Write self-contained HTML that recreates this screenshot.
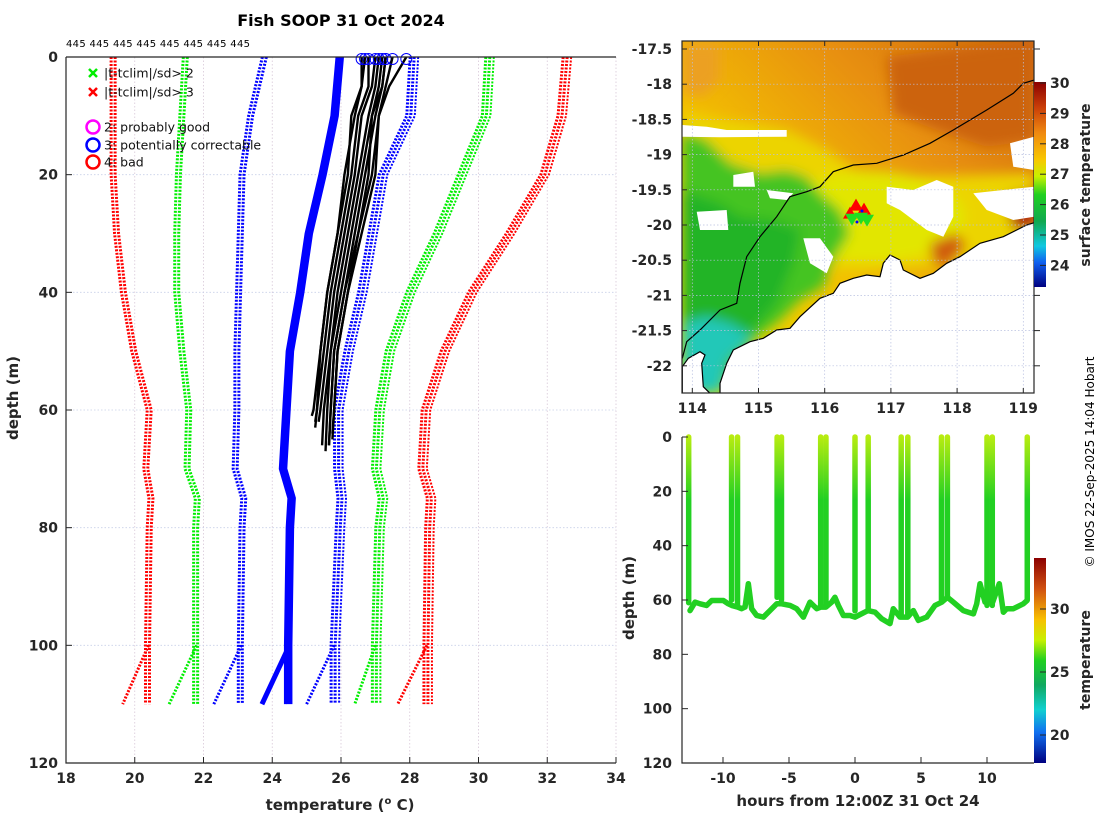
<!DOCTYPE html>
<html><head><meta charset="utf-8">
<style>
html,body{margin:0;padding:0;background:#fff;}
svg{display:block;font-family:"DejaVu Sans","Liberation Sans",sans-serif;}
.tk{font-size:14px;font-weight:bold;fill:#262626;}
</style></head>
<body>
<svg id="root" width="1100" height="820" viewBox="0 0 1100 820" xmlns="http://www.w3.org/2000/svg">
<defs>
<linearGradient id="sstcb" x1="0" y1="0" x2="0" y2="1">
<stop offset="0" stop-color="#8b0000"/><stop offset="0.12" stop-color="#c83c08"/><stop offset="0.25" stop-color="#f08a10"/><stop offset="0.38" stop-color="#f8c800"/><stop offset="0.46" stop-color="#c8f000"/><stop offset="0.55" stop-color="#20d020"/><stop offset="0.68" stop-color="#10a850"/><stop offset="0.8" stop-color="#10c8e0"/><stop offset="0.88" stop-color="#1060f0"/><stop offset="1" stop-color="#000080"/>
</linearGradient>
<linearGradient id="tcb" x1="0" y1="0" x2="0" y2="1">
<stop offset="0" stop-color="#8b0000"/><stop offset="0.15" stop-color="#d05010"/><stop offset="0.3" stop-color="#f8c000"/><stop offset="0.4" stop-color="#c8f000"/><stop offset="0.5" stop-color="#20d020"/><stop offset="0.62" stop-color="#10a860"/><stop offset="0.74" stop-color="#10d0d0"/><stop offset="0.85" stop-color="#1070f0"/><stop offset="1" stop-color="#000080"/>
</linearGradient>
<linearGradient id="mapbg" x1="1" y1="0" x2="0" y2="1">
<stop offset="0" stop-color="#d06a0c"/><stop offset="0.3" stop-color="#e89010"/><stop offset="0.6" stop-color="#f2c000"/><stop offset="1" stop-color="#ecdc00"/>
</linearGradient>
<linearGradient id="castg" gradientUnits="userSpaceOnUse" x1="0" y1="436" x2="0" y2="500">
<stop offset="0" stop-color="#b8ec10"/><stop offset="1" stop-color="#22d022"/>
</linearGradient>
<filter id="blur" x="-10%" y="-10%" width="120%" height="120%"><feGaussianBlur stdDeviation="6"/></filter>
<clipPath id="mapclip"><rect x="682" y="41" width="352" height="352"/></clipPath>
</defs>

<text x="341" y="26" text-anchor="middle" font-size="16" font-weight="bold" fill="#000">Fish SOOP 31 Oct 2024</text>
<text x="66" y="47" font-size="10" fill="#000" textLength="184">445 445 445 445 445 445 445 445</text>

<g id="left"></g>
<g id="map"></g>
<g id="ts"></g>

<text transform="translate(1094,462) rotate(-90)" text-anchor="middle" font-size="12" fill="#000">© IMOS 22-Sep-2025 14:04 Hobart</text>
</svg>
<script>
const NS="http://www.w3.org/2000/svg";
function mk(tag,attrs,parent){const e=document.createElementNS(NS,tag);for(const k in attrs)e.setAttribute(k,attrs[k]);parent.appendChild(e);return e;}

/* ---------- LEFT PROFILE CHART DATA ---------- */
const climDepths=[0,10,20,30,40,50,60,70,75,80,100,110];
const redLow =[19.4,19.4,19.4,19.5,19.7,20.0,20.45,20.35,20.5,20.45,20.4,20.4];
const greenLow=[21.5,21.4,21.3,21.25,21.25,21.4,21.6,21.55,21.85,21.8,21.8,21.8];
const blueLow=[23.8,23.4,23.15,23.1,23.05,23.0,23.0,22.95,23.2,23.15,23.1,23.1];
const meanT =[26.0,25.85,25.5,25.1,24.85,24.55,24.45,24.35,24.6,24.55,24.5,24.5];
const blueHigh=[28.1,28.0,27.2,26.9,26.6,26.2,25.9,25.9,26.0,25.95,25.8,25.8];
const greenHigh=[30.3,30.2,29.5,28.8,28.0,27.4,27.1,27.0,27.2,27.1,27.0,27.0];
const redHigh=[32.55,32.4,31.9,30.9,29.8,29.0,28.45,28.35,28.6,28.55,28.5,28.5];
const branch110=[19.65,21.0,22.3,23.7,25.0,26.4,27.65];
const castDepths=[0,5,10,20,30,40,50,60];
const castEnds=[61,63,62,66,67,66,64,65,66,62];
const casts=[
[26.6,26.6,26.4,26.1,25.9,25.6,25.4,25.2],
[26.8,26.8,26.5,26.3,26.0,25.7,25.5,25.3],
[27.0,26.9,26.6,26.4,26.1,25.8,25.6,25.4],
[27.1,27.0,26.8,26.5,26.2,25.9,25.7,25.5],
[27.2,27.1,26.9,26.6,26.3,26.0,25.7,25.6],
[27.3,27.2,27.0,26.7,26.4,26.1,25.8,25.7],
[27.3,27.2,26.9,26.8,26.5,26.2,25.9,25.8],
[27.5,27.3,27.1,27.0,26.6,26.2,25.9,25.8],
[27.9,27.4,27.1,26.9,26.5,26.1,25.8,25.7],
[26.7,26.6,26.3,26.2,25.9,25.6,25.4,25.3]];
const xTicksL=[18,20,22,24,26,28,30,32,34];
const yTicksL=[0,20,40,60,80,100,120];

const L={x0:66,x1:616,y0:57,y1:763,tmin:18,tmax:34,dmax:120};
const xL=t=>L.x0+(t-L.tmin)/(L.tmax-L.tmin)*(L.x1-L.x0);
const yL=d=>L.y0+d/L.dmax*(L.y1-L.y0);
const left=document.getElementById('left');

xTicksL.forEach(t=>{const g=mk('line',{x1:xL(t),x2:xL(t),y1:L.y0,y2:L.y1,stroke:'#d8c8d8','stroke-width':0.8,'stroke-dasharray':'1.5 2'},left);

});
yTicksL.forEach(d=>{const g=mk('line',{x1:L.x0,x2:L.x1,y1:yL(d),y2:yL(d),stroke:'#c8d0e8','stroke-width':0.8,'stroke-dasharray':'1.5 2'},left);

});

const climSeries=[[redLow,'#ff0000'],[greenLow,'#00ee00'],[blueLow,'#0000ff'],[meanT,'#0000ff'],[blueHigh,'#0000ff'],[greenHigh,'#00ee00'],[redHigh,'#ff0000']];
const climNames=['clim-minus-3sd','clim-minus-2sd','clim-minus-1sd','clim-mean','clim-plus-1sd','clim-plus-2sd','clim-plus-3sd'];
climSeries.forEach((s,i)=>{
  const vals=s[0],col=s[1];
  const pts=vals.map((v,j)=>xL(v)+','+yL(climDepths[j])).join(' ');
  const bpts=xL(vals[10])+','+yL(100)+' '+xL(branch110[i])+','+yL(110);
  const g=mk('g',{},left);
  
  
  if(i===3){
    mk('polyline',{points:pts,fill:'none',stroke:col,'stroke-width':6},g);
    mk('polyline',{points:pts,fill:'none',stroke:col,'stroke-width':3,transform:'translate(-4,0)'},g);
    mk('polyline',{points:bpts,fill:'none',stroke:col,'stroke-width':5},g);
  } else {
    [-3,1].forEach(o=>mk('polyline',{points:pts,fill:'none',stroke:col,'stroke-width':3,'stroke-dasharray':'2 1.5',transform:'translate('+o+',0)'},g));
    mk('polyline',{points:bpts,fill:'none',stroke:col,'stroke-width':3,'stroke-dasharray':'2 1.5'},g);
    if(i>3) mk('polyline',{points:pts,fill:'none',stroke:col,'stroke-width':2,'stroke-dasharray':'2 1.5',transform:'translate(5,0)'},g);
  }
});

casts.forEach((c,i)=>{
  const dd=castDepths.concat([castEnds[i]]);
  const vv=c.concat([c[c.length-1]-0.05]);
  const pts=vv.map((v,j)=>xL(v)+','+yL(dd[j])).join(' ');
  const p=mk('polyline',{points:pts,fill:'none',stroke:'#000','stroke-width':2.4,'stroke-linejoin':'round'},left);
  
  
  const ci=mk('circle',{cx:xL(c[0]),cy:yL(0)+2,r:5.5,fill:'none',stroke:'#0000ff','stroke-width':1},left);
  
  
});

mk('path',{d:`M${L.x0},${L.y0}H${L.x1}M${L.x0},${L.y0}V${L.y1}H${L.x1}`,stroke:'#262626','stroke-width':1.2,fill:'none'},left);
xTicksL.forEach(t=>{mk('line',{x1:xL(t),x2:xL(t),y1:L.y1,y2:L.y1-6,stroke:'#262626'},left);
const tx=mk('text',{x:xL(t),y:L.y1+20,'text-anchor':'middle',class:'tk'},left);tx.textContent=t;

});
yTicksL.forEach(d=>{mk('line',{x1:L.x0,x2:L.x0+6,y1:yL(d),y2:yL(d),stroke:'#262626'},left);
const tx=mk('text',{x:L.x0-8,y:yL(d)+5,'text-anchor':'end',class:'tk'},left);tx.textContent=d;

});
{const t=mk('text',{x:340,y:810,'text-anchor':'middle','font-size':15,'font-weight':'bold',fill:'#262626'},left);
t.innerHTML='temperature (<tspan dy="-6" font-size="10">o</tspan><tspan dy="6"> C)</tspan>';


const y=mk('text',{transform:'translate(18,398) rotate(-90)','text-anchor':'middle','font-size':15,'font-weight':'bold',fill:'#262626'},left);y.textContent='depth (m)';

}

{const lg=mk('g',{},left);


const items=[['x','#00ee00','|t-tclim|/sd> 2',73],['x','#ff0000','|t-tclim|/sd> 3',92],['o','#ff00ff','2: probably good',127],['o','#0000ff','3: potentially correctable',145],['o','#ff0000','4: bad',162]];
items.forEach(it=>{
  const e=mk('g',{},lg);
  
  
  if(it[0]==='x'){mk('path',{d:`M89,${it[3]-4}l8,8M97,${it[3]-4}l-8,8`,stroke:it[1],'stroke-width':2.5},e);}
  else mk('circle',{cx:93,cy:it[3],r:6.5,fill:'none',stroke:it[1],'stroke-width':2.5},e);
  const t=mk('text',{x:104,y:it[3]+4.5,'font-size':12.5,fill:'#111'},e);t.textContent=it[2];
});}

/* ---------- MAP ---------- */
const map=document.getElementById('map');
const lonTicks=[114,115,116,117,118,119];
const latTicks=[-17.5,-18,-18.5,-19,-19.5,-20,-20.5,-21,-21.5,-22];
const sstTicks=[24,25,26,27,28,29,30];
const M={x0:682,x1:1034,y0:41,y1:393};
const lonX=l=>692.3+(l-114)*66.2;
const latY=a=>49+(-17.5-a)*70.4;
const Z=s=>s.map(p=>(620+p[0]/3).toFixed(1)+','+(30+p[1]/3).toFixed(1)).join(' ');
const mg=mk('g',{'clip-path':'url(#mapclip)'},map);
mk('rect',{x:M.x0,y:M.y0,width:352,height:352,fill:'url(#mapbg)'},mg);
const soft=mk('g',{filter:'url(#blur)'},mg);
mk('polygon',{points:Z([[187,250],[500,300],[620,360],[700,420],[900,440],[1243,430],[1243,700],[700,720],[187,700]]),fill:'#ecd400'},soft);
mk('ellipse',{cx:620+750/3,cy:30+560/3,rx:95,ry:45,fill:'#e2e600'},soft);
mk('polygon',{points:Z([[187,300],[260,330],[330,400],[420,430],[500,420],[560,440],[600,490],[660,540],[690,610],[640,690],[610,770],[540,810],[480,870],[400,930],[300,1090],[187,1090]]),fill:'#44c420'},soft);
mk('polygon',{points:Z([[187,480],[300,520],[360,560],[460,570],[540,600],[520,700],[470,820],[400,900],[300,960],[187,980]]),fill:'#22b428'},soft);
mk('polygon',{points:Z([[187,880],[260,860],[330,880],[400,920],[320,990],[300,1090],[187,1090]]),fill:'#20c8b8'},soft);
mk('polygon',{points:Z([[187,40],[300,40],[300,150],[250,200],[187,190]]),fill:'#eca020'},soft);
mk('polygon',{points:Z([[800,80],[1243,30],[1243,330],[1100,350],[950,300],[820,250]]),fill:'#cc6410'},soft);
mk('polygon',{points:Z([[1160,500],[1243,480],[1243,600],[1180,600]]),fill:'#b02010'},soft);
mk('polygon',{points:Z([[930,640],[1010,610],[1040,650],[980,710],[940,700]]),fill:'#d05a10'},soft);
[[[187,285],[260,290],[320,300],[500,300],[500,320],[300,322],[187,320]],
 [[340,435],[400,425],[405,470],[340,470]],
 [[230,545],[320,540],[325,600],[240,600]],
 [[800,470],[880,480],[950,450],[1000,470],[1000,560],[970,620],[920,600],[840,540],[800,520]],
 [[1060,490],[1150,480],[1243,470],[1243,560],[1180,570],[1100,540]],
 [[1170,340],[1243,320],[1243,420],[1180,410]],
 [[550,625],[600,625],[640,680],[620,730],[570,700]],
 [[440,480],[520,490],[500,510],[450,505]]].forEach(c=>{const p=mk('polygon',{points:Z(c),fill:'#fff'},mg);
 
 });
{const land=mk('polygon',{points:Z([[300,1090],[300,1060],[320,1000],[340,960],[390,935],[430,925],[470,900],[510,895],[540,860],[600,805],[640,790],[660,760],[700,745],[740,735],[780,740],[790,700],[810,675],[840,690],[850,720],[900,745],[940,730],[980,700],[1020,680],[1080,640],[1150,620],[1190,600],[1220,585],[1243,578],[1243,1090]]),fill:'#fff',stroke:'#000','stroke-width':1.2},mg);


const land2=mk('polygon',{points:Z([[187,1090],[187,1010],[205,985],[240,965],[255,975],[245,1000],[250,1070],[270,1090]]),fill:'#fff',stroke:'#000','stroke-width':1.2},mg);


const iso=mk('polyline',{points:Z([[187,985],[200,935],[240,900],[300,840],[350,820],[360,760],[380,680],[420,620],[470,560],[510,500],[560,485],[600,470],[640,425],[700,405],[770,400],[850,375],[930,340],[1000,300],[1100,240],[1180,190],[1210,160],[1243,150]]),fill:'none',stroke:'#000','stroke-width':1.2},mg);

}
lonTicks.forEach(l=>mk('line',{x1:lonX(l),x2:lonX(l),y1:M.y0,y2:M.y1,stroke:'#b8c0e0','stroke-width':0.7,'stroke-dasharray':'1.5 2'},mg));
latTicks.forEach(a=>mk('line',{x1:M.x0,x2:M.x1,y1:latY(a),y2:latY(a),stroke:'#b8c0e0','stroke-width':0.7,'stroke-dasharray':'1.5 2'},mg));
{const mkg=mk('g',{},mg);


[[0,0,'#ff0000',1],[8,4,'#ff0000',1],[-6,8,'#ff0000',1],[5,12,'#22dd22',-1],[-4,13,'#22dd22',-1],[11,14,'#22dd22',-1]].forEach(m=>{
 const cx=620+720/3+m[0]-4,cy=30+545/3+m[1]-6,s=7;
 mk('polygon',{points:m[3]>0?`${cx},${cy-s} ${cx-s},${cy+s*0.7} ${cx+s},${cy+s*0.7}`:`${cx},${cy+s} ${cx-s},${cy-s*0.7} ${cx+s},${cy-s*0.7}`,fill:m[2]},mkg);});
mk('circle',{cx:862,cy:211,r:1.5,fill:'#0000ff'},mkg);mk('circle',{cx:857,cy:222,r:1.5,fill:'#0000ff'},mkg);}
mk('rect',{x:M.x0,y:M.y0,width:352,height:352,fill:'none',stroke:'#262626','stroke-width':1.2},map);
lonTicks.forEach(l=>{mk('line',{x1:lonX(l),x2:lonX(l),y1:M.y1,y2:M.y1-5,stroke:'#262626'},map);mk('line',{x1:lonX(l),x2:lonX(l),y1:M.y0,y2:M.y0+5,stroke:'#262626'},map);
const t=mk('text',{x:lonX(l),y:M.y1+20,'text-anchor':'middle',class:'tk'},map);t.textContent=l;

});
latTicks.forEach(a=>{mk('line',{x1:M.x0,x2:M.x0+5,y1:latY(a),y2:latY(a),stroke:'#262626'},map);mk('line',{x1:M.x1,x2:M.x1+6,y1:latY(a),y2:latY(a),stroke:'#262626'},map);
const t=mk('text',{x:M.x0-10,y:latY(a)+5,'text-anchor':'end',class:'tk'},map);t.textContent=a;

});
const sstY=v=>83+(30-v)*30.4;
{const cb=mk('rect',{x:1034,y:82,width:12,height:205,fill:'url(#sstcb)'},map);


sstTicks.forEach(v=>{mk('line',{x1:1040,x2:1046,y1:sstY(v),y2:sstY(v),stroke:'#262626'},map);
const t=mk('text',{x:1050,y:sstY(v)+5,class:'tk'},map);t.textContent=v;

});
const t=mk('text',{transform:'translate(1090,185) rotate(-90)','text-anchor':'middle','font-size':14,'font-weight':'bold',fill:'#262626'},map);t.textContent='surface temperature';

}

/* ---------- DEPTH-TIME PLOT ---------- */
const ts=document.getElementById('ts');
const castHours=[-12.6,-9.35,-8.9,-5.9,-5.57,-2.6,-2.2,0,1.0,3.5,4.0,6.55,7.0,10.0,10.4,13.05];
const castBottoms=[61,60,62,59,60,62,62,64,64,66,66,60,59,62,62,60];
const trackHours=[-12.5,-12.12,-11.74,-11.24,-10.86,-10.48,-9.97,-9.6,-9.34,-8.89,-8.59,-8.33,-8.08,-7.83,-7.45,-6.94,-6.44,-5.93,-5.56,-4.92,-4.42,-3.91,-3.41,-2.9,-2.58,-2.2,-1.77,-1.52,-1.26,-0.88,-0.38,0,0.98,1.52,2.02,2.65,2.9,3.41,3.99,4.42,4.8,5.43,6.06,6.57,7.0,7.45,8.21,8.97,9.22,9.47,9.85,10.1,10.43,10.93,11.24,11.49,12.0,12.75,13.03];
const trackDepths=[63.9,60.8,61.4,62.0,60.2,60.2,60.2,61.4,62.0,62.6,63.2,62.6,54.0,63.2,65.7,66.3,63.9,61.4,61.4,62.0,63.2,66.3,60.8,63.2,62.6,62.6,60.8,59.0,62.0,65.7,65.7,66.3,63.9,64.5,66.9,68.7,63.2,66.3,66.3,63.9,67.5,66.3,62.0,60.8,59.0,60.8,63.9,65.1,61.4,54.0,60.8,57.8,60.8,54.0,64.5,63.2,63.2,61.4,60.2];
const hourTicks=[-10,-5,0,5,10];
const depthTicks=[0,20,40,60,80,100,120];
const tempTicks=[20,25,30];
const T={x0:682,x1:1034,y0:437,y1:763};
const xT=h=>855+h*13.2;
const yT=d=>T.y0+d/120*(T.y1-T.y0);
castHours.forEach((h,i)=>{const l=mk('line',{x1:xT(h),x2:xT(h),y1:yT(0),y2:yT(castBottoms[i]),stroke:'url(#castg)','stroke-width':5.5,'stroke-linecap':'round'},ts);

});
{const p=mk('polyline',{points:trackHours.map((h,i)=>xT(h)+','+yT(trackDepths[i])).join(' '),fill:'none',stroke:'#22d022','stroke-width':5.5,'stroke-linejoin':'round','stroke-linecap':'round'},ts);

}
mk('path',{d:`M${T.x0},${T.y0}V${T.y1}H${T.x1}`,stroke:'#262626','stroke-width':1.2,fill:'none'},ts);
hourTicks.forEach(h=>{mk('line',{x1:xT(h),x2:xT(h),y1:T.y1,y2:T.y1-6,stroke:'#262626'},ts);
const t=mk('text',{x:xT(h),y:T.y1+20,'text-anchor':'middle',class:'tk'},ts);t.textContent=h;

});
depthTicks.forEach(d=>{mk('line',{x1:T.x0,x2:T.x0+6,y1:yT(d),y2:yT(d),stroke:'#262626'},ts);
const t=mk('text',{x:T.x0-10,y:yT(d)+5,'text-anchor':'end',class:'tk'},ts);t.textContent=d;

});
const tY=v=>735-(v-20)*12.6;
{const cb=mk('rect',{x:1034,y:558,width:12,height:205,fill:'url(#tcb)'},ts);


tempTicks.forEach(v=>{mk('line',{x1:1040,x2:1046,y1:tY(v),y2:tY(v),stroke:'#262626'},ts);
const t=mk('text',{x:1050,y:tY(v)+5,class:'tk'},ts);t.textContent=v;

});
const t=mk('text',{transform:'translate(1090,660) rotate(-90)','text-anchor':'middle','font-size':14,'font-weight':'bold',fill:'#262626'},ts);t.textContent='temperature';


const x=mk('text',{x:858,y:806,'text-anchor':'middle','font-size':15,'font-weight':'bold',fill:'#262626'},ts);x.textContent='hours from 12:00Z 31 Oct 24';


const y=mk('text',{transform:'translate(634,598) rotate(-90)','text-anchor':'middle','font-size':15,'font-weight':'bold',fill:'#262626'},ts);y.textContent='depth (m)';

}
</script>
</body></html>
